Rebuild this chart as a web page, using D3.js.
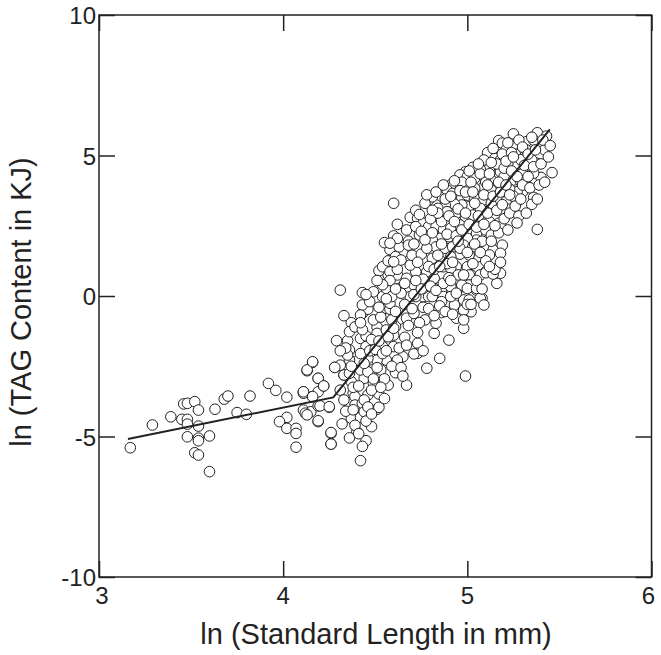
<!DOCTYPE html>
<html>
<head>
<meta charset="utf-8">
<script src="https://cdn.jsdelivr.net/npm/d3@7"></script>
<style>
  body { margin: 0; background: #fff; }
  text { font-family: "Liberation Sans", Arial, Helvetica, sans-serif; fill: #222; }
</style>
</head>
<body>
<div id="chart"></div>
<script>
// ln(standard length), ln(TAG) pairs
const smallFish = [
  [3.17,-5.40],[3.29,-4.59],[3.39,-4.30],[3.46,-3.84],[3.48,-3.82],[3.52,-3.76],[3.54,-4.06],[3.45,-4.39],
  [3.48,-4.39],[3.48,-4.56],[3.54,-4.63],[3.48,-5.01],[3.54,-5.06],[3.54,-5.15],[3.60,-4.98],[3.52,-5.58],
  [3.54,-5.66],[3.60,-6.25],[3.63,-4.03],[3.68,-3.67],[3.70,-3.56],[3.75,-4.15],[3.80,-4.21],[3.82,-3.56],
  [3.92,-3.11],[3.96,-3.36],[4.02,-3.60],[4.02,-4.32],[3.98,-4.47],[4.02,-4.71],[4.07,-4.71],[4.07,-4.89],
  [4.07,-5.38],[4.11,-3.41],[4.11,-3.46],[4.16,-3.58],[4.19,-3.41],[4.19,-2.93],[4.22,-3.20],[4.13,-2.66],
  [4.16,-2.36],[4.11,-4.06],[4.13,-4.21],[4.15,-4.12],[4.19,-3.91],[4.25,-3.96],[4.19,-4.47],[4.26,-4.89],
  [4.26,-5.27],[4.28,-2.54],[4.33,-2.81]
];

const midFish = [
  [4.31,0.21],[4.13,-2.63],[4.16,-2.34],[4.19,-2.93],[4.22,-3.20],[4.11,-3.41],[4.16,-3.58],[4.20,-3.91],
  [4.25,-3.94],[4.12,-4.17],[4.19,-4.44],[4.26,-4.86],[4.26,-5.27],[4.42,-5.86],[4.40,-4.83],[4.45,-5.15],
  [4.48,-4.65],[4.37,-4.35],[4.42,-4.32],[4.51,-4.03],[4.52,-3.96],[4.36,-3.80],[4.42,-3.94],[4.38,-3.46],
  [4.39,-3.58],[4.46,-3.52],[4.52,-3.49],[4.53,-3.17],[4.57,-3.17],[4.49,-3.11],[4.44,-2.93],[4.37,-3.05],
  [4.33,-2.81],[4.42,-2.63],[4.49,-2.61],[4.53,-2.63],[4.61,-2.73],[4.67,-3.17],[4.78,-2.57],[4.85,-2.22],
  [4.99,-2.85],[4.90,-1.57],[4.82,-1.33],[4.73,-1.68],[4.73,-2.04],[4.71,-2.06],[4.65,-2.16],[4.62,-2.28],
  [4.56,-2.28],[4.51,-2.28],[4.46,-2.22],[4.41,-2.28],[4.36,-2.28],[4.31,-2.46],[4.28,-2.54],[4.29,-1.59],
  [4.35,-1.59],[4.36,-1.92],[4.42,-1.51],[4.45,-1.42],[4.51,-1.11],[4.51,-1.33],[4.56,-1.21],[4.60,-1.39],
  [4.66,-1.47],[4.54,-1.80],[4.60,-1.80],[4.45,-1.80],[4.37,-0.95],[4.43,-0.62],[4.46,-0.47],[4.43,0.12],
  [4.49,0.15],[4.54,-0.02],[4.56,-0.44],[4.58,-0.47],[4.58,-0.26],[4.63,-0.83],[4.61,-1.09],[4.67,-0.79],
  [4.71,-0.62],[4.76,-0.40],[4.77,-0.85],[4.83,-0.97],[4.86,-0.59],[4.76,-0.02],[4.79,-0.02],[4.72,-0.02],
  [4.69,-0.02],[4.58,0.33],[4.63,0.27],[4.67,0.51],[4.58,0.69],[4.62,0.75],[4.57,0.75],[4.52,0.90],
  [4.72,0.86],[4.78,0.63],[4.81,0.33],[4.86,0.15],[4.92,0.27],[4.98,0.33],[5.05,0.21],[5.08,-0.08],
  [4.98,-0.14],[4.93,-0.32],[4.94,-0.79],[5.02,-0.56],[4.98,-0.50],[4.98,-1.15],[4.87,-0.02],[4.86,-0.20],
  [4.94,1.04],[5.00,1.04],[5.02,0.75],[5.10,0.86],[5.15,0.81],[5.16,0.45],[4.54,1.04],[4.58,0.86],
  [4.67,0.63],[4.78,0.86],[4.82,0.63],[4.87,1.04],[4.91,0.99],[4.95,0.75],[5.01,0.75],[5.07,0.75],
  [5.18,0.81],[5.01,0.39],[4.97,0.39],[4.91,0.33],[4.76,0.27],[4.71,0.39],[4.56,0.27],[4.59,-0.02],
  [4.81,-0.02],[4.91,-0.02],[5.01,-0.14],[5.07,-0.08],[5.09,-0.32],[5.00,0.27],[5.05,0.27],[5.10,0.83],
  [5.14,0.78],[4.43,-0.32],[4.42,-0.68],[4.36,-1.27],[4.13,-4.23],[4.39,-3.88],[4.43,-3.82],[4.44,-4.12],
  [4.31,-3.35],[4.33,-3.70],[4.34,-4.10],[4.32,-4.55],[4.35,-2.10],[4.36,-2.75],[4.38,-3.25],[4.39,-4.60],
  [4.34,-1.85],[4.37,-2.50],[4.33,-0.70],[4.39,-1.10],[4.38,-4.05],[4.36,-5.05],[4.31,-1.95],
  [4.41,-3.20],[4.42,-2.05],[4.43,-1.20],[4.44,-3.70],[4.45,-4.45],[4.46,-2.70],[4.47,-1.95],[4.48,-3.35],
  [4.49,-0.85],[4.47,-0.20],[4.41,-4.90],[4.44,-2.40],[4.46,-3.95],[4.48,-1.55],[4.49,-2.95],[4.42,-0.95],
  [4.45,0.05],[4.43,-5.35],[4.48,-4.20],[4.50,-1.90],
  [4.51,-2.55],[4.52,-1.60],[4.53,-0.75],[4.54,-2.05],[4.55,-2.95],[4.56,-0.10],[4.57,-1.45],[4.58,0.55],
  [4.59,-0.85],[4.55,-3.65],[4.52,-0.40],[4.57,1.25],[4.54,0.40],[4.59,-2.50],[4.53,-3.25],[4.56,-1.95],
  [4.58,1.65],[4.51,0.55],[4.55,1.90],[4.60,-1.15],
  [4.61,-0.55],[4.62,0.95],[4.63,-1.85],[4.64,0.10],[4.65,1.55],[4.66,-0.30],[4.67,2.35],[4.68,-1.05],
  [4.69,1.10],[4.62,2.55],[4.64,-2.55],[4.66,0.45],[4.68,1.95],[4.70,-0.45],[4.63,1.75],[4.65,-2.85],
  [4.61,0.25],[4.69,2.80],[4.67,-1.75],[4.70,1.45]
];

const bigFish = [
  [4.60,3.30],[5.25,5.77],[5.38,5.81],[5.43,5.69],[5.32,5.49],[5.36,5.55],[5.17,5.53],[5.19,5.44],
  [5.11,5.10],[5.15,4.90],[5.21,5.20],[5.25,5.31],[5.29,5.08],[5.32,5.20],[5.42,5.20],[5.38,4.72],
  [5.35,4.84],[5.46,4.39],[5.40,4.22],[5.36,4.37],[5.30,4.48],[5.27,4.66],[5.22,4.74],[5.18,4.84],
  [5.12,4.54],[5.09,4.84],[5.07,4.51],[5.03,4.58],[4.99,4.42],[4.96,4.31],[5.00,4.25],[5.04,4.19],
  [5.09,4.25],[5.13,4.13],[5.18,4.42],[5.20,4.25],[5.25,4.13],[5.29,4.07],[5.32,3.95],[5.30,3.71],
  [5.36,3.51],[5.35,3.26],[5.27,3.71],[5.23,3.80],[5.18,3.95],[5.13,3.77],[5.09,3.89],[5.04,3.83],
  [5.00,3.89],[4.95,3.89],[4.91,3.95],[4.89,3.77],[4.92,3.65],[4.97,3.51],[5.00,3.59],[5.04,3.51],
  [5.09,3.42],[5.13,3.30],[5.18,3.42],[5.21,3.36],[5.27,3.36],[5.23,3.09],[5.18,3.06],[5.15,2.88],
  [5.10,3.00],[5.07,3.12],[5.01,3.18],[4.97,3.24],[4.93,3.27],[4.88,3.24],[4.83,3.24],[4.79,3.42],
  [4.81,3.53],[4.84,3.12],[4.89,3.00],[4.94,2.94],[4.99,2.82],[5.03,2.88],[5.08,2.77],[5.12,2.64],
  [5.17,2.59],[5.18,2.47],[5.38,2.37],[4.73,2.77],[4.76,2.59],[4.74,2.17],[4.72,2.47],[4.79,2.47],
  [4.83,2.47],[4.87,2.35],[4.91,2.41],[4.96,2.53],[5.00,2.35],[5.05,2.23],[5.10,2.35],[5.13,2.17],
  [5.05,1.99],[5.00,2.05],[4.95,2.11],[4.90,2.11],[4.85,2.05],[4.81,1.99],[4.60,2.14],[4.62,2.05],
  [4.58,1.88],[4.68,1.81],[4.75,1.49],[4.83,1.75],[4.88,1.70],[4.92,1.75],[4.98,1.81],[5.03,1.75],
  [5.09,1.70],[5.14,1.64],[5.19,1.81],[5.18,1.52],[5.12,1.46],[5.06,1.40],[5.01,1.46],[4.96,1.49],
  [4.91,1.40],[4.85,1.28],[4.81,1.34],[4.61,1.40],[4.64,1.28],[4.60,1.22],
  [4.71,0.05],[4.72,3.05],[4.73,1.20],[4.74,-0.95],[4.75,2.30],[4.76,0.60],[4.77,3.30],[4.78,1.70],
  [4.79,-0.45],[4.80,2.75],[4.71,1.85],[4.73,-1.30],[4.75,0.25],[4.77,2.00],[4.79,1.05],[4.76,-1.95],
  [4.74,2.90],[4.78,3.60],[4.72,0.55],[4.80,0.35],
  [4.81,2.25],[4.82,0.95],[4.83,3.70],[4.84,1.45],[4.85,-0.35],[4.86,2.65],[4.87,0.45],[4.88,3.45],
  [4.89,1.15],[4.90,2.85],[4.82,-0.70],[4.84,2.95],[4.86,1.85],[4.88,-0.55],[4.90,0.65],[4.83,0.20],
  [4.87,3.95],[4.89,2.20],[4.85,1.05],[4.81,3.05],
  [4.91,3.55],[4.92,1.20],[4.93,2.65],[4.94,0.10],[4.95,3.10],[4.96,1.70],[4.97,4.05],[4.98,0.75],
  [4.99,2.95],[5.00,1.55],[4.92,-0.65],[4.94,2.15],[4.96,3.75],[4.98,-0.85],[4.91,0.55],[4.95,1.95],
  [4.97,2.35],[4.99,3.70],[4.93,4.10],[5.00,-0.30],
  [5.01,2.55],[5.02,4.05],[5.03,1.15],[5.04,3.30],[5.05,0.55],[5.06,2.85],[5.07,4.35],[5.08,1.95],
  [5.09,3.60],[5.10,1.25],[5.02,-0.30],[5.04,1.85],[5.06,4.70],[5.08,0.25],[5.03,3.70],[5.05,2.45],
  [5.07,1.55],[5.09,2.55],[5.01,4.45],[5.10,4.05],
  [5.11,2.95],[5.12,4.35],[5.13,1.95],[5.14,3.55],[5.15,0.95],[5.16,4.70],[5.17,2.25],[5.18,3.70],
  [5.19,5.05],[5.20,2.75],[5.12,1.05],[5.14,5.25],[5.16,3.05],[5.18,1.20],[5.11,3.95],[5.13,4.75],
  [5.15,2.50],[5.17,4.05],[5.19,3.25],[5.20,4.55],
  [5.21,3.95],[5.22,5.45],[5.23,2.95],[5.24,4.45],[5.25,3.55],[5.26,5.05],[5.27,4.25],[5.28,2.85],
  [5.29,4.85],[5.30,3.95],[5.22,2.35],[5.24,5.10],[5.26,3.20],[5.28,5.55],[5.21,4.80],[5.23,3.60],
  [5.25,4.95],[5.27,2.60],[5.29,3.45],[5.30,5.30],
  [5.31,4.65],[5.33,5.05],[5.34,3.85],[5.36,4.60],[5.37,5.20],[5.39,3.95],[5.40,4.70],[5.41,5.55],
  [5.42,4.05],[5.44,4.95],[5.32,2.95],[5.35,5.65],[5.38,3.45],[5.33,4.25],[5.45,5.35]
];

// piecewise fit (breakpoint near ln SL = 4.27)
const fitLine = [[3.157,-5.09],[4.272,-3.61],[5.448,5.93]];

const xTicks = [3, 4, 5, 6];
const yTicks = [-10, -5, 0, 5, 10];

const W = 661, H = 655;
const m = { left: 99, right: 9.5, top: 15, bottom: 78 };

const svg = d3.select('#chart').append('svg')
  .attr('width', W)
  .attr('height', H);

const x = d3.scaleLinear().domain([3, 6]).range([m.left, W - m.right]);
const y = d3.scaleLinear().domain([-10, 10]).range([H - m.bottom, m.top]);

const tickLen = 16;

// inward ticks on all four sides
svg.append('g')
  .attr('transform', `translate(0,${H - m.bottom})`)
  .call(d3.axisTop(x).tickValues(xTicks).tickSize(tickLen).tickFormat(''))
  .call(g => g.select('.domain').remove());
svg.append('g')
  .attr('transform', `translate(0,${m.top})`)
  .call(d3.axisBottom(x).tickValues(xTicks).tickSize(tickLen).tickFormat(''))
  .call(g => g.select('.domain').remove());
svg.append('g')
  .attr('transform', `translate(${m.left},0)`)
  .call(d3.axisRight(y).tickValues(yTicks).tickSize(tickLen).tickFormat(''))
  .call(g => g.select('.domain').remove());
svg.append('g')
  .attr('transform', `translate(${W - m.right},0)`)
  .call(d3.axisLeft(y).tickValues(yTicks).tickSize(tickLen).tickFormat(''))
  .call(g => g.select('.domain').remove());
svg.selectAll('.tick line').attr('stroke', '#222').attr('stroke-width', 1.5);

// tick labels
svg.append('g').selectAll('text')
  .data(xTicks)
  .enter()
  .append('text')
  .attr('x', d => x(d) + (d === 3 ? 3 : d === 6 ? -3 : 0))
  .attr('y', H - m.bottom + 27)
  .attr('text-anchor', 'middle')
  .style('font-size', '24px')
  .text(d => d);

svg.append('g').selectAll('text')
  .data(yTicks)
  .enter()
  .append('text')
  .attr('x', m.left - 3)
  .attr('y', d => y(d) + 9)
  .attr('text-anchor', 'end')
  .style('font-size', '24px')
  .text(d => d);

// points
const allFish = smallFish.concat(midFish, bigFish);
svg.append('g').selectAll('circle')
  .data(allFish)
  .enter()
  .append('circle')
  .attr('cx', d => x(d[0]))
  .attr('cy', d => y(d[1]))
  .attr('r', 5.3)
  .attr('fill', '#fff')
  .attr('stroke', '#222')
  .attr('stroke-width', 1);

// fitted line
svg.append('path')
  .datum(fitLine)
  .attr('d', d3.line().x(d => x(d[0])).y(d => y(d[1])))
  .attr('fill', 'none')
  .attr('stroke', '#222')
  .attr('stroke-width', 2);

// frame
svg.append('rect')
  .attr('x', m.left)
  .attr('y', m.top)
  .attr('width', W - m.right - m.left)
  .attr('height', H - m.bottom - m.top)
  .attr('fill', 'none')
  .attr('stroke', '#222')
  .attr('stroke-width', 1.5);

// axis titles
svg.append('text')
  .attr('x', 376)
  .attr('y', H - 11)
  .attr('text-anchor', 'middle')
  .style('font-size', '29px')
  .text('ln (Standard Length in mm)');

svg.append('text')
  .attr('transform', `translate(31,302) rotate(-90)`)
  .attr('text-anchor', 'middle')
  .style('font-size', '29px')
  .text('ln (TAG Content in KJ)');
</script>
</body>
</html>
